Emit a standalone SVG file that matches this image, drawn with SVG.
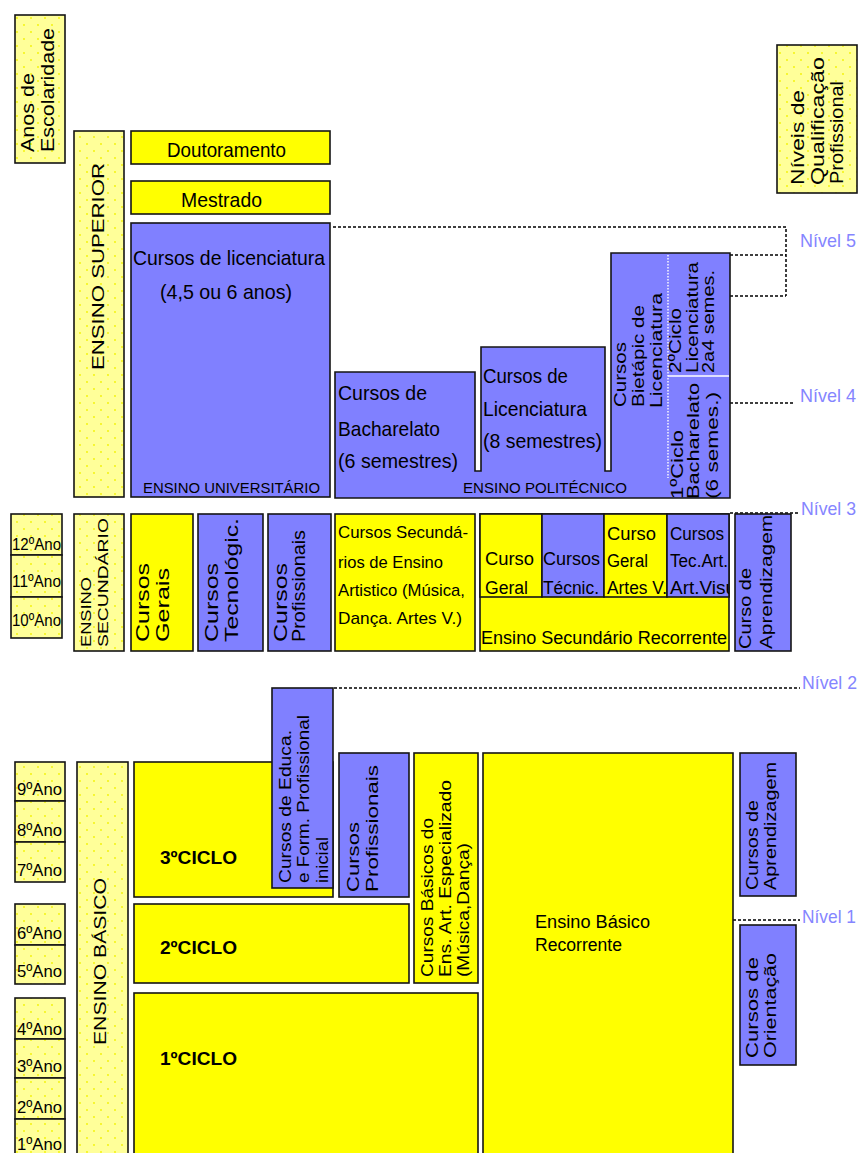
<svg xmlns="http://www.w3.org/2000/svg" width="860" height="1153" viewBox="0 0 860 1153">
<defs>
<style>
.b{fill:#8080FF;stroke:#141414;stroke-width:1.6}
.y{fill:#FFFF00;stroke:#141414;stroke-width:1.6}
.ly{fill:url(#dots);stroke:#141414;stroke-width:1.6}
text{font-family:"Liberation Sans",Arial,sans-serif;fill:#000}
.lvl{font-size:19px;fill:#8585FF}
.dash{stroke:#000;stroke-width:1.5;stroke-dasharray:3 2;fill:none}
.bold{font-weight:bold}
</style>
<pattern id="dots" width="14" height="14" patternUnits="userSpaceOnUse">
<rect width="14" height="14" fill="#FFFF99"/>
<circle cx="3" cy="4" r="0.9" fill="#F2F200"/>
<circle cx="10" cy="11" r="0.9" fill="#F2F200"/>
</pattern>
<clipPath id="clipTec"><rect x="667" y="514" width="62" height="83"/></clipPath>
<clipPath id="clipBiet"><rect x="611" y="253" width="119" height="245"/></clipPath>
</defs>
<rect width="860" height="1153" fill="#fff"/>

<g id="connectors">
<path class="dash" d="M333,227 H786 V296 M730,255 H786 M730,296 H786"/>
<path class="dash" d="M730,403 H795"/>
<path class="dash" d="M730,513 H799"/>
<path class="dash" d="M334,688 H800"/>
<path class="dash" d="M733,920 H800"/>
</g>

<g id="anos-escolaridade">
<rect class="ly" x="15" y="15" width="50" height="148"/>
<text font-size="19" transform="translate(34,152) rotate(-90)" textLength="79" lengthAdjust="spacingAndGlyphs">Anos de</text>
<text font-size="19" transform="translate(54,152) rotate(-90)" textLength="124" lengthAdjust="spacingAndGlyphs">Escolaridade</text>
</g>

<g id="niveis-qualificacao">
<rect class="ly" x="777" y="45" width="80" height="148"/>
<text font-size="18" transform="translate(804,185) rotate(-90)" textLength="95" lengthAdjust="spacingAndGlyphs">Níveis de</text>
<text font-size="18" transform="translate(824,185) rotate(-90)" textLength="128" lengthAdjust="spacingAndGlyphs">Qualificação</text>
<text font-size="18" transform="translate(843,184) rotate(-90)" textLength="103" lengthAdjust="spacingAndGlyphs">Profissional</text>
</g>

<g id="ensino-superior">
<rect class="ly" x="74" y="131" width="50" height="366"/>
<text font-size="17" transform="translate(104,370) rotate(-90)" textLength="207" lengthAdjust="spacingAndGlyphs">ENSINO SUPERIOR</text>
</g>

<g id="doutoramento">
<rect class="y" x="131" y="131" width="199" height="33"/>
<text font-size="21" x="167" y="157" textLength="119" lengthAdjust="spacingAndGlyphs">Doutoramento</text>
</g>
<g id="mestrado">
<rect class="y" x="131" y="181" width="199" height="33"/>
<text font-size="21" x="181" y="207" textLength="81" lengthAdjust="spacingAndGlyphs">Mestrado</text>
</g>

<g id="ensino-universitario">
<rect class="b" x="131" y="223" width="199" height="274"/>
<text font-size="21" x="133" y="265" textLength="192" lengthAdjust="spacingAndGlyphs">Cursos de licenciatura</text>
<text font-size="21" x="160" y="299" textLength="132" lengthAdjust="spacingAndGlyphs">(4,5 ou 6 anos)</text>
<text font-size="15" x="143" y="493" textLength="177" lengthAdjust="spacingAndGlyphs">ENSINO UNIVERSITÁRIO</text>
</g>

<g id="ensino-politecnico">
<path class="b" d="M335,372 H475 V471 H481 V347 H605 V471 H611 V253 H730 V498 H335 Z"/>
<text font-size="21" x="338" y="400" textLength="89" lengthAdjust="spacingAndGlyphs">Cursos de</text>
<text font-size="21" x="338" y="436" textLength="102" lengthAdjust="spacingAndGlyphs">Bacharelato</text>
<text font-size="21" x="338" y="468" textLength="120" lengthAdjust="spacingAndGlyphs">(6 semestres)</text>
<text font-size="21" x="483" y="383" textLength="85" lengthAdjust="spacingAndGlyphs">Cursos de</text>
<text font-size="21" x="483" y="416" textLength="104" lengthAdjust="spacingAndGlyphs">Licenciatura</text>
<text font-size="21" x="483" y="448" textLength="119" lengthAdjust="spacingAndGlyphs">(8 semestres)</text>
<text font-size="15" x="463" y="493" textLength="164" lengthAdjust="spacingAndGlyphs">ENSINO POLITÉCNICO</text>
<line x1="668" y1="255" x2="668" y2="478" stroke="#fff" stroke-width="1.4" stroke-dasharray="1.5 1.5"/>
<line x1="668" y1="376" x2="729" y2="376" stroke="#fff" stroke-width="1.6"/>
<text font-size="17" transform="translate(626,407) rotate(-90)" textLength="65" lengthAdjust="spacingAndGlyphs">Cursos</text>
<text font-size="17" transform="translate(644,407) rotate(-90)" textLength="102" lengthAdjust="spacingAndGlyphs">Bietápic de</text>
<text font-size="17" transform="translate(662,408) rotate(-90)" textLength="115" lengthAdjust="spacingAndGlyphs">Licenciatura</text>
<text font-size="17" transform="translate(681,373) rotate(-90)" textLength="65" lengthAdjust="spacingAndGlyphs">2ºCiclo</text>
<text font-size="17" transform="translate(698,373) rotate(-90)" textLength="111" lengthAdjust="spacingAndGlyphs">Licenciatura</text>
<text font-size="17" transform="translate(714,373) rotate(-90)" textLength="103" lengthAdjust="spacingAndGlyphs">2a4 semes.</text>
<g clip-path="url(#clipBiet)">
<text font-size="17" transform="translate(683,499) rotate(-90)" textLength="69" lengthAdjust="spacingAndGlyphs">1ºCiclo</text>
<text font-size="17" transform="translate(699,499) rotate(-90)" textLength="116" lengthAdjust="spacingAndGlyphs">Bacharelato</text>
<text font-size="17" transform="translate(718,499) rotate(-90)" textLength="107" lengthAdjust="spacingAndGlyphs">(6 semes.)</text>
</g>
</g>

<g id="anos-secundario">
<rect class="ly" x="11" y="514" width="51" height="41"/>
<rect class="ly" x="11" y="555" width="51" height="42"/>
<rect class="ly" x="11" y="597" width="51" height="41"/>
<text font-size="17" x="12" y="550" textLength="49" lengthAdjust="spacingAndGlyphs">12ºAno</text>
<text font-size="17" x="12" y="587" textLength="49" lengthAdjust="spacingAndGlyphs">11ºAno</text>
<text font-size="17" x="12" y="626" textLength="49" lengthAdjust="spacingAndGlyphs">10ºAno</text>
</g>

<g id="ensino-secundario">
<rect class="ly" x="74" y="514" width="50" height="137"/>
<text font-size="14" transform="translate(91,647) rotate(-90)" textLength="70" lengthAdjust="spacingAndGlyphs">ENSINO</text>
<text font-size="14" transform="translate(108,647) rotate(-90)" textLength="129" lengthAdjust="spacingAndGlyphs">SECUNDÁRIO</text>
</g>

<g id="cursos-gerais">
<rect class="y" x="131" y="514" width="62" height="137"/>
<text font-size="18" transform="translate(149,642) rotate(-90)" textLength="79" lengthAdjust="spacingAndGlyphs">Cursos</text>
<text font-size="18" transform="translate(169,642) rotate(-90)" textLength="74" lengthAdjust="spacingAndGlyphs">Gerais</text>
</g>
<g id="cursos-tecnologicos">
<rect class="b" x="198" y="514" width="65" height="137"/>
<text font-size="18" transform="translate(218,642) rotate(-90)" textLength="79" lengthAdjust="spacingAndGlyphs">Cursos</text>
<text font-size="18" transform="translate(238,642) rotate(-90)" textLength="124" lengthAdjust="spacingAndGlyphs">Tecnológic.</text>
</g>
<g id="cursos-profissionais-sec">
<rect class="b" x="268" y="514" width="63" height="137"/>
<text font-size="18" transform="translate(287,642) rotate(-90)" textLength="79" lengthAdjust="spacingAndGlyphs">Cursos</text>
<text font-size="18" transform="translate(305,642) rotate(-90)" textLength="112" lengthAdjust="spacingAndGlyphs">Profissionais</text>
</g>

<g id="cursos-secundarios-artistico">
<rect class="y" x="335" y="514" width="140" height="137"/>
<text font-size="17" x="338" y="538" textLength="130" lengthAdjust="spacingAndGlyphs">Cursos Secundá-</text>
<text font-size="17" x="338" y="568" textLength="105" lengthAdjust="spacingAndGlyphs">rios de Ensino</text>
<text font-size="17" x="338" y="596" textLength="127" lengthAdjust="spacingAndGlyphs">Artistico (Música,</text>
<text font-size="17" x="338" y="624" textLength="124" lengthAdjust="spacingAndGlyphs">Dança. Artes V.)</text>
</g>

<g id="secundario-recorrente-grupo">
<rect class="y" x="480" y="514" width="249" height="137"/>
<rect class="y" x="480" y="514" width="62" height="83"/>
<rect class="b" x="542" y="514" width="62" height="83"/>
<rect class="y" x="604" y="514" width="63" height="83"/>
<rect class="b" x="667" y="514" width="62" height="83"/>
<text font-size="18" x="485" y="565" textLength="49" lengthAdjust="spacingAndGlyphs">Curso</text>
<text font-size="18" x="485" y="594" textLength="43" lengthAdjust="spacingAndGlyphs">Geral</text>
<text font-size="18" x="543" y="565" textLength="57" lengthAdjust="spacingAndGlyphs">Cursos</text>
<text font-size="18" x="543" y="594" textLength="56" lengthAdjust="spacingAndGlyphs">Técnic.</text>
<text font-size="18" x="607" y="540" textLength="49" lengthAdjust="spacingAndGlyphs">Curso</text>
<text font-size="18" x="607" y="567" textLength="41" lengthAdjust="spacingAndGlyphs">Geral</text>
<text font-size="18" x="607" y="594" textLength="60" lengthAdjust="spacingAndGlyphs">Artes V.</text>
<g clip-path="url(#clipTec)">
<text font-size="18" x="670" y="540" textLength="54" lengthAdjust="spacingAndGlyphs">Cursos</text>
<text font-size="18" x="670" y="567" textLength="58" lengthAdjust="spacingAndGlyphs">Tec.Art.</text>
<text font-size="18" x="670" y="594" textLength="66" lengthAdjust="spacingAndGlyphs">Art.Visu</text>
</g>
<text font-size="18" x="481" y="644" textLength="246" lengthAdjust="spacingAndGlyphs">Ensino Secundário Recorrente</text>
</g>

<g id="curso-aprendizagem-sec">
<rect class="b" x="735" y="514" width="56" height="137"/>
<text font-size="17" transform="translate(751,649) rotate(-90)" textLength="81" lengthAdjust="spacingAndGlyphs">Curso de</text>
<text font-size="17" transform="translate(772,649) rotate(-90)" textLength="134" lengthAdjust="spacingAndGlyphs">Aprendizagem</text>
</g>

<g id="anos-basico">
<rect class="ly" x="15" y="762" width="50" height="39"/>
<rect class="ly" x="15" y="801" width="50" height="41"/>
<rect class="ly" x="15" y="842" width="50" height="40"/>
<rect class="ly" x="15" y="904" width="50" height="41"/>
<rect class="ly" x="15" y="945" width="50" height="39"/>
<rect class="ly" x="15" y="998" width="50" height="41"/>
<rect class="ly" x="15" y="1039" width="50" height="39"/>
<rect class="ly" x="15" y="1078" width="50" height="41"/>
<rect class="ly" x="15" y="1119" width="50" height="50"/>
<text font-size="17" x="17" y="795" textLength="45" lengthAdjust="spacingAndGlyphs">9ºAno</text>
<text font-size="17" x="17" y="836" textLength="45" lengthAdjust="spacingAndGlyphs">8ºAno</text>
<text font-size="17" x="17" y="876" textLength="45" lengthAdjust="spacingAndGlyphs">7ºAno</text>
<text font-size="17" x="17" y="939" textLength="45" lengthAdjust="spacingAndGlyphs">6ºAno</text>
<text font-size="17" x="17" y="977" textLength="45" lengthAdjust="spacingAndGlyphs">5ºAno</text>
<text font-size="17" x="17" y="1035" textLength="45" lengthAdjust="spacingAndGlyphs">4ºAno</text>
<text font-size="17" x="17" y="1072" textLength="45" lengthAdjust="spacingAndGlyphs">3ºAno</text>
<text font-size="17" x="17" y="1113" textLength="45" lengthAdjust="spacingAndGlyphs">2ºAno</text>
<text font-size="17" x="17" y="1150" textLength="45" lengthAdjust="spacingAndGlyphs">1ºAno</text>
</g>

<g id="ensino-basico">
<rect class="ly" x="77" y="762" width="51" height="410"/>
<text font-size="17" transform="translate(106,1045) rotate(-90)" textLength="167" lengthAdjust="spacingAndGlyphs">ENSINO BÁSICO</text>
</g>

<g id="ciclo-3">
<rect class="y" x="134" y="762" width="199" height="135"/>
<text class="bold" font-size="19" x="160" y="864" textLength="77" lengthAdjust="spacingAndGlyphs">3ºCICLO</text>
</g>
<g id="cursos-educacao-formacao">
<rect class="b" x="272" y="688" width="61" height="200"/>
<text font-size="17" transform="translate(291,883) rotate(-90)" textLength="153" lengthAdjust="spacingAndGlyphs">Cursos de Educa.</text>
<text font-size="17" transform="translate(309,883) rotate(-90)" textLength="168" lengthAdjust="spacingAndGlyphs">e Form. Profissional</text>
<text font-size="17" transform="translate(328,883) rotate(-90)" textLength="46" lengthAdjust="spacingAndGlyphs">inicial</text>
</g>
<g id="ciclo-2">
<rect class="y" x="134" y="904" width="275" height="79"/>
<text class="bold" font-size="19" x="160" y="954" textLength="77" lengthAdjust="spacingAndGlyphs">2ºCICLO</text>
</g>
<g id="ciclo-1">
<rect class="y" x="134" y="993" width="344" height="180"/>
<text class="bold" font-size="19" x="160" y="1065" textLength="77" lengthAdjust="spacingAndGlyphs">1ºCICLO</text>
</g>
<g id="cursos-profissionais-basico">
<rect class="b" x="339" y="753" width="70" height="144"/>
<text font-size="17" transform="translate(359,892) rotate(-90)" textLength="70" lengthAdjust="spacingAndGlyphs">Cursos</text>
<text font-size="17" transform="translate(378,892) rotate(-90)" textLength="127" lengthAdjust="spacingAndGlyphs">Profissionais</text>
</g>
<g id="cursos-basicos-artistico">
<rect class="y" x="414" y="753" width="64" height="230"/>
<text font-size="17" transform="translate(433,977) rotate(-90)" textLength="159" lengthAdjust="spacingAndGlyphs">Cursos Básicos do</text>
<text font-size="17" transform="translate(451,977) rotate(-90)" textLength="197" lengthAdjust="spacingAndGlyphs">Ens. Art. Especializado</text>
<text font-size="17" transform="translate(469,977) rotate(-90)" textLength="134" lengthAdjust="spacingAndGlyphs">(Música,Dança)</text>
</g>
<g id="ensino-basico-recorrente">
<rect class="y" x="483" y="753" width="250" height="420"/>
<text font-size="18" x="535" y="928" textLength="115" lengthAdjust="spacingAndGlyphs">Ensino Básico</text>
<text font-size="18" x="535" y="951" textLength="87" lengthAdjust="spacingAndGlyphs">Recorrente</text>
</g>
<g id="cursos-aprendizagem-basico">
<rect class="b" x="740" y="753" width="56" height="143"/>
<text font-size="17" transform="translate(758,890) rotate(-90)" textLength="90" lengthAdjust="spacingAndGlyphs">Cursos de</text>
<text font-size="17" transform="translate(776,890) rotate(-90)" textLength="128" lengthAdjust="spacingAndGlyphs">Aprendizagem</text>
</g>
<g id="cursos-orientacao">
<rect class="b" x="740" y="925" width="56" height="140"/>
<text font-size="17" transform="translate(758,1058) rotate(-90)" textLength="101" lengthAdjust="spacingAndGlyphs">Cursos de</text>
<text font-size="17" transform="translate(776,1058) rotate(-90)" textLength="105" lengthAdjust="spacingAndGlyphs">Orientação</text>
</g>

<g id="niveis">
<text class="lvl" x="800" y="247" textLength="56" lengthAdjust="spacingAndGlyphs">Nível 5</text>
<text class="lvl" x="800" y="402" textLength="56" lengthAdjust="spacingAndGlyphs">Nível 4</text>
<text class="lvl" x="801" y="515" textLength="55" lengthAdjust="spacingAndGlyphs">Nível 3</text>
<text class="lvl" x="802" y="689" textLength="55" lengthAdjust="spacingAndGlyphs">Nível 2</text>
<text class="lvl" x="802" y="923" textLength="54" lengthAdjust="spacingAndGlyphs">Nível 1</text>
</g>
</svg>
